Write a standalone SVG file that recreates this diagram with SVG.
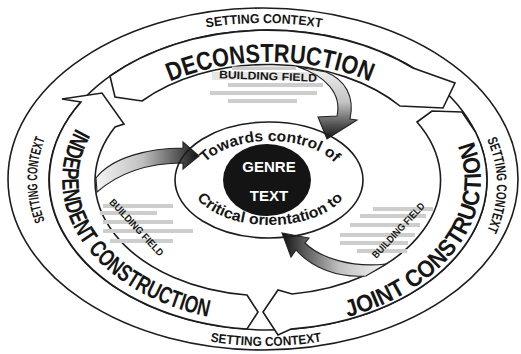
<svg xmlns="http://www.w3.org/2000/svg" width="521" height="354" viewBox="0 0 521 354">
<defs>
<style>
.ln{fill:none;stroke:#1c1c1c;stroke-width:1.6}
.band{fill:#fff;stroke:#1c1c1c;stroke-width:1.6;stroke-linejoin:miter}
.gar{stroke:#222;stroke-width:1.1;stroke-linejoin:miter}
.t{font-family:"Liberation Sans",Arial,sans-serif;font-weight:bold;fill:#161616}
.set{font-size:13px}
.side{font-size:14px}
.big{font-size:24px}
.mid{font-size:15px}
.bf{font-size:10px}
.gb{fill:#cdcdcd}
</style>
<linearGradient id="gA" gradientUnits="userSpaceOnUse" x1="0" y1="66" x2="0" y2="139">
<stop offset="0" stop-color="#f5f5f5"/><stop offset="0.5" stop-color="#c2c2c2"/><stop offset="0.8" stop-color="#555"/><stop offset="1" stop-color="#151515"/>
</linearGradient>
<linearGradient id="gB" gradientUnits="userSpaceOnUse" x1="96" y1="0" x2="199" y2="0">
<stop offset="0" stop-color="#f5f5f5"/><stop offset="0.45" stop-color="#c0c0c0"/><stop offset="0.8" stop-color="#555"/><stop offset="1" stop-color="#111"/>
</linearGradient>
<linearGradient id="gC" gradientUnits="userSpaceOnUse" x1="386" y1="0" x2="282" y2="0">
<stop offset="0" stop-color="#f5f5f5"/><stop offset="0.45" stop-color="#c0c0c0"/><stop offset="0.8" stop-color="#555"/><stop offset="1" stop-color="#111"/>
</linearGradient>
<path id="tpTop" d="M 24,180 A 240 157 0 0 1 504,180"/>
<path id="tpBot" d="M 26,180 A 240 166 0 0 0 506,180"/>
<path id="tpLeft" d="M 67.5,258.5 A 228 157 0 0 1 67.5,101.5"/>
<path id="tpRight" d="M 465.9,106.5 A 232 157 0 0 1 465.9,263.5"/>
<path id="tpDecon" d="M 88,182 A 182 120 0 0 1 452,182"/>
<path id="tpIndep" d="M 76.1,128.1 A 206 143 0 0 0 268,323"/>
<path id="tpJoint" d="M 347.8,317.2 A 213 148 0 0 0 461,117.5"/>
<path id="tpTow" d="M 196,183 A 74 42 0 0 1 344,183"/>
<path id="tpCrit" d="M 190,180 A 80 45 0 0 0 350,180"/>
</defs>
<rect x="0" y="0" width="521" height="354" fill="#fff"/>

<g id="setting-context">
<ellipse class="ln" cx="263" cy="179" rx="255" ry="171"/>
<ellipse class="ln" cx="268" cy="180" rx="219" ry="150"/>
<text class="t set"><textPath href="#tpTop" startOffset="50%" text-anchor="middle" textLength="116" lengthAdjust="spacingAndGlyphs">SETTING CONTEXT</textPath></text>
<text class="t set"><textPath href="#tpBot" startOffset="50%" text-anchor="middle" textLength="112" lengthAdjust="spacingAndGlyphs">SETTING CONTEXT</textPath></text>
<text class="t side"><textPath href="#tpLeft" startOffset="50%" text-anchor="middle" textLength="84" lengthAdjust="spacingAndGlyphs">SETTING CONTEXT</textPath></text>
<text class="t side"><textPath href="#tpRight" startOffset="50%" text-anchor="middle" textLength="94" lengthAdjust="spacingAndGlyphs">SETTING CONTEXT</textPath></text>
</g>

<g id="independent-construction">
<path class="band" d="M 247,295 L 258,312 L 247,329 A 219 150 0 0 1 81,102 L 62,99 L 102,93 L 124,124 L 115,127 A 172 115 0 0 0 247,295 Z"/>
<text class="t big"><textPath href="#tpIndep" textLength="270" lengthAdjust="spacingAndGlyphs">INDEPENDENT CONSTRUCTION</textPath></text>
</g>

<g id="deconstruction">
<path class="band" d="M 110,76 A 219 150 0 0 1 413,68 L 455,83 L 443,108 L 400,106 A 172 115 0 0 0 142,101 L 115,97 Z"/>
<text class="t big" style="font-size:26px"><textPath href="#tpDecon" startOffset="50%" text-anchor="middle" textLength="205" lengthAdjust="spacingAndGlyphs">DECONSTRUCTION</textPath></text>
</g>

<g id="joint-construction">
<path class="band" d="M 417,122 L 432,111 L 462,112 L 475.5,132 A 219 150 0 0 1 291,329 L 278,335 L 263,312 L 278,290 L 292,294 A 172 115 0 0 0 417,122 Z"/>
<text class="t big"><textPath href="#tpJoint" textLength="245" lengthAdjust="spacingAndGlyphs">JOINT CONSTRUCTION</textPath></text>
</g>

<g id="building-field-top">
<rect class="gb" x="232" y="66.5" width="64" height="3.5"/>
<rect class="gb" x="212" y="72" width="106" height="8" opacity="0.5"/>
<rect class="gb" x="228" y="83" width="95" height="4"/>
<rect class="gb" x="210" y="91" width="107" height="4"/>
<rect class="gb" x="228" y="99" width="69" height="4"/>
<text class="t" style="font-size:11px" x="268" y="80" text-anchor="middle" textLength="98" lengthAdjust="spacingAndGlyphs" transform="rotate(2 268 76)">BUILDING FIELD</text>
</g>

<g id="building-field-left">
<rect class="gb" x="103" y="204" width="70" height="4"/>
<rect class="gb" x="100" y="211" width="57" height="4"/>
<rect class="gb" x="103" y="220" width="70" height="4"/>
<rect class="gb" x="103" y="229" width="90" height="4"/>
<rect class="gb" x="110" y="239" width="63" height="4"/>
<text class="t bf" x="137" y="231" text-anchor="middle" textLength="74" lengthAdjust="spacingAndGlyphs" transform="rotate(47 137 227)">BUILDING FIELD</text>
</g>

<g id="building-field-right">
<rect class="gb" x="373" y="207" width="60" height="4"/>
<rect class="gb" x="360" y="214" width="66" height="4"/>
<rect class="gb" x="350" y="223" width="70" height="4"/>
<rect class="gb" x="340" y="233" width="75" height="4"/>
<rect class="gb" x="340" y="241" width="68" height="4"/>
<rect class="gb" x="357" y="249" width="50" height="4"/>
<text class="t bf" x="398" y="234" text-anchor="middle" textLength="72" lengthAdjust="spacingAndGlyphs" transform="rotate(-47 398 230)">BUILDING FIELD</text>
</g>

<g id="connectors">
<path class="gar" fill="url(#gA)" d="M 298,67 C 326,76 342,94 337,116 L 318,117 L 327,139 L 357,120 L 350,119 C 355,96 345,80 326,72 Z"/>
<path class="gar" fill="url(#gB)" d="M 96,178 C 112,157 150,148 183,148 L 183,142 L 199,156 L 183,169 L 183,163 C 150,163 120,172 97,192 Z"/>
<path class="gar" fill="url(#gC)" d="M 386,264 C 352,268 320,258 305,243 L 309,238 L 282,233 L 291,257 L 296,250 C 312,268 338,278 366,276 Z"/>
</g>

<g id="genre-text">
<ellipse class="ln" cx="269" cy="180" rx="94" ry="58"/>
<ellipse cx="267" cy="180" rx="44" ry="36" fill="#141414"/>
<text class="t" style="font-size:15px;fill:#fff" x="269" y="172" text-anchor="middle">GENRE</text>
<text class="t" style="font-size:15px;fill:#fff" x="269" y="201" text-anchor="middle">TEXT</text>
<text class="t mid"><textPath href="#tpTow" startOffset="50%" text-anchor="middle" textLength="140" lengthAdjust="spacingAndGlyphs">Towards control of</textPath></text>
<text class="t mid"><textPath href="#tpCrit" startOffset="50%" text-anchor="middle" textLength="160" lengthAdjust="spacingAndGlyphs">Critical orientation to</textPath></text>
</g>
</svg>
